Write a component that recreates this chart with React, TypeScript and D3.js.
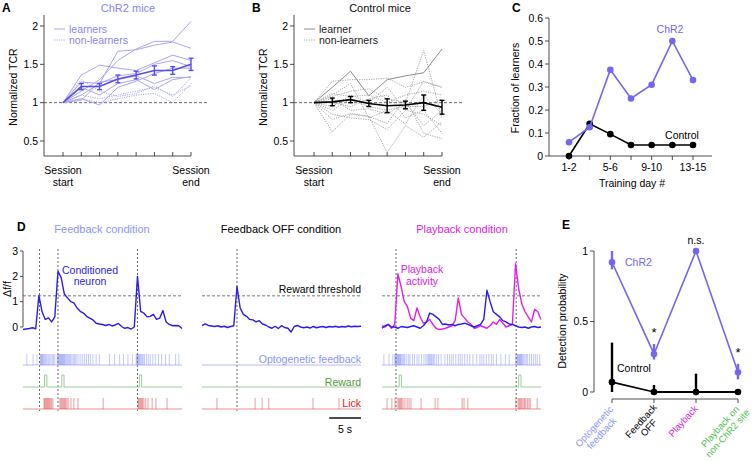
import React from "react";
import * as d3 from "d3";

const FONT = "'Liberation Sans', Arial, Helvetica, sans-serif";

// ---------- Panel A / B data ----------
const sessions = [0, 1, 2, 3, 4, 5, 6, 7];
const tcrTicks = [0.5, 1, 1.5, 2];
const chr2Learners = [
  [1, 1.15, 1.3, 1.55, 1.7, 1.8, 1.8, 2.06],
  [1, 1.1, 1.25, 1.67, 1.69, 1.75, 1.79, 1.71],
  [1, 1.36, 1.49, 1.45, 1.42, 1.52, 1.62, 1.55],
  [1, 1.27, 1.25, 1.35, 1.38, 1.5, 1.55, 1.47],
  [1, 1.05, 0.97, 1.2, 1.28, 1.38, 1.45, 1.45],
  [1, 1.2, 1.1, 1.25, 1.3, 1.17, 1.3, 1.34],
  [1, 1.03, 1.27, 1.3, 1.35, 1.25, 1.33, 1.33],
];
const chr2NonLearners = [
  [1, 1.3, 1.15, 1.08, 1.12, 1.22, 1.08, 1.32],
  [1, 1.05, 1.0, 1.05, 1.1, 1.12, 1.0, 1.25],
  [1, 1.1, 1.05, 1.1, 1.15, 1.2, 1.1, 1.22],
];
const chr2Mean = [1, 1.21, 1.21, 1.31, 1.36, 1.42, 1.42, 1.5];
const chr2Err = [0, 0.04, 0.04, 0.05, 0.05, 0.06, 0.05, 0.08];
const ctrlLearner = [1, 1.2, 1.41, 1.09, 1.3, 1.35, 1.39, 1.7];
const ctrlNonLearners = [
  [1, 1.28, 1.3, 1.3, 1.32, 1.2, 1.27, 1.2],
  [1, 0.62, 0.85, 0.82, 0.35, 0.7, 0.55, 0.75],
  [1, 0.78, 0.86, 0.82, 0.73, 1.05, 0.6, 0.53],
  [1, 1.08, 1.15, 1.18, 1.05, 1.0, 1.68, 0.8],
  [1, 0.95, 1.1, 1.0, 1.2, 0.9, 1.28, 1.2],
  [1, 1.05, 0.9, 0.92, 0.85, 1.0, 0.7, 0.9],
  [1, 0.9, 1.05, 0.95, 0.9, 0.95, 0.95, 1.05],
  [1, 1.1, 1.25, 0.8, 0.9, 0.72, 1.1, 0.85],
  [1, 1.0, 0.95, 1.05, 1.1, 0.8, 0.9, 0.6],
  [1, 1.12, 1.08, 1.1, 1.0, 1.1, 1.15, 1.1],
  [1, 0.85, 0.8, 0.78, 0.65, 0.9, 0.85, 0.7],
];
const ctrlMean = [1, 1.01, 1.04, 0.99, 0.96, 0.97, 1.0, 0.94];
const ctrlErr = [0, 0.05, 0.04, 0.04, 0.09, 0.05, 0.1, 0.09];

// ---------- Panel C data ----------
const trainingDays = ["1-2", "3-4", "5-6", "7-8", "9-10", "11-12", "13-15"];
const shownDays = ["1-2", "5-6", "9-10", "13-15"];
const fracChR2 = [0.06, 0.125, 0.375, 0.25, 0.31, 0.5, 0.33];
const fracControl = [0, 0.14, 0.095, 0.048, 0.048, 0.048, 0.048];
const fracTicks = [0, 0.1, 0.2, 0.3, 0.4, 0.5, 0.6];

// ---------- Panel D data (samples every 0.5 s, 0..25 s) ----------
const traceStep = 0.5;
const dffTicks = [0, 1, 2, 3];
const rewardThreshold = 1.23;
const feedbackTrace = [
  -0.1, -0.08, -0.06, -0.03, -0.07, 1.25, 0.6, 0.3, 0.36, 0.2,
  0.4, 2.2, 1.95, 1.3, 1.15, 1.0, 0.95, 0.75, 0.62, 0.55,
  0.42, 0.35, 0.28, 0.15, 0.12, 0.1, 0.06, 0.1, 0.04, 0.08,
  0.14, 0.02, -0.05, -0.02, -0.08, 0.0, 2.0, 0.62, 0.55, 0.4,
  0.42, 0.5, 0.3, 0.35, 0.65, 0.2, 0.1, 0.05, 0.06, 0.05, -0.06,
];
const offTrace = [
  0.05, 0.12, 0.06, 0.04, 0.02, 0.05, 0.0, 0.03, -0.02, 0.02,
  0.05, 1.6, 0.75, 0.5, 0.42, 0.3, 0.28, 0.2, 0.25, 0.12,
  0.08, 0.0, -0.05, 0.03, -0.06, 0.05, -0.02, -0.05, -0.2, 0.02,
  0.06, 0.0, -0.03, 0.0, -0.04, 0.02, -0.03, 0.0, 0.02, -0.02,
  0.02, 0.0, 0.03, -0.01, 0.02, 0.0, 0.04, 0.01, 0.03, 0.02, 0.03,
];
const playbackTrace = [
  0.05, 0.0, 0.1, -0.05, 0.1, 2.1, 1.6, 1.0, 0.8, 0.35,
  0.25, 0.75, 0.4, 0.15, 0.2, 0.3, 0.1, -0.05, -0.1, -0.08,
  -0.05, 0.0, 0.05, 0.25, 1.15, 0.5, 0.35, 0.2, 0.1, -0.05,
  -0.02, 0.05, 0.0, -0.05, 0.05, 0.2, 0.1, 0.3, 0.15, 0.0,
  0.05, 0.1, 2.5, 1.5, 0.9, 0.6, 0.4, 0.2, 0.7, 0.6, 0.3,
];
const playbackNeuronTrace = [
  -0.05, 0.05, 0.1, 0.0, 0.0, -0.05, 0.02, 0.0, -0.02, 0.02,
  0.05, 0.0, -0.05, 0.05, 0.2, 0.55, 0.5, 0.4, 0.3, 0.1,
  0.12, 0.08, 0.1, 0.05, 0.1, 0.12, 0.15, 0.1, 0.05, 0.0,
  0.05, 0.1, 0.3, 1.45, 1.0, 0.6, 0.5, 0.4, 0.25, 0.2,
  0.12, 0.1, 0.05, 0.0, -0.02, 0.0, -0.05, 0.0, 0.02, -0.02, 0.0,
];
const eventsFeedback = [2.6, 5.5, 18.0];
const eventsOff = [5.5];
const eventsPlayback = [2.2, 21.1];
const optoFeedback = [
  0.6, 1.6, 2.2, 2.7, 2.8, 2.9, 3.0, 3.1, 3.2, 3.35, 3.5, 3.65, 3.8, 4.0, 4.2,
  4.4, 4.6, 4.8, 5.0, 5.4, 5.5, 5.6, 5.7, 5.8, 5.9, 6.0, 6.1, 6.2, 6.3, 6.4,
  6.5, 6.6, 6.75, 6.9, 7.05, 7.2, 7.35, 7.5, 7.7, 7.9, 8.1, 8.3, 8.5, 8.8, 9.1,
  9.4, 9.7, 10.0, 10.3, 10.6, 11.0, 11.5, 12.0, 13.6, 14.4, 15.2, 15.8, 16.5,
  17.2, 17.8, 17.9, 18.0, 18.1, 18.2, 18.3, 18.45, 18.6, 18.75, 18.9, 19.1,
  19.4, 19.7, 20.0, 20.4, 20.8, 21.3, 21.8, 22.4, 23.0, 24.0, 24.5,
];
const optoPlayback = [
  0.3, 1.1, 1.7, 2.0, 2.1, 2.2, 2.3, 2.4, 2.5, 2.6, 2.7, 2.8, 2.9, 3.0, 3.15,
  3.3, 3.45, 3.6, 3.9, 4.2, 4.4, 4.8, 5.1, 5.5, 5.8, 6.2, 6.6, 6.9, 7.1, 7.3,
  7.45, 7.6, 7.75, 7.9, 8.1, 8.3, 8.6, 8.9, 9.3, 9.9, 10.3, 10.6, 10.9, 11.2,
  11.6, 12.0, 12.3, 12.6, 13.0, 13.4, 13.8, 14.3, 14.9, 15.4, 15.7, 16.0, 16.4,
  16.8, 17.2, 17.5, 18.0, 18.7, 19.4, 20.0, 21.0, 21.2, 21.3, 21.4, 21.5, 21.6,
  21.7, 21.8, 21.9, 22.0, 22.15, 22.3, 22.5, 22.7, 22.9, 23.2, 23.5, 23.8, 24.1,
  24.4, 24.8,
];
const rewardFeedback = [3.4, 6.1, 18.3];
const rewardPlayback = [2.7, 21.5];
const rewardDuration = 0.35;
const lickFeedback = [
  3.3, 3.4, 3.55, 3.7, 3.85, 4.0, 4.15, 4.3, 4.5, 4.7, 5.8, 5.95, 6.1, 6.25,
  6.4, 6.55, 6.7, 6.9, 7.1, 7.55, 8.0, 8.65, 12.6, 18.1, 18.2, 18.35, 18.5,
  18.65, 18.8, 19.0, 19.3, 19.65, 20.3, 20.9, 22.65,
];
const lickOff = [2.35, 8.35, 9.45, 10.5, 17.45, 21.55];
const lickPlayback = [
  0.8, 1.55, 2.05, 2.5, 2.65, 2.8, 2.95, 3.1, 3.3, 3.6, 3.95, 4.25, 4.55, 6.15,
  8.35, 8.8, 12.6, 12.9, 13.5, 21.05, 21.4, 21.55, 21.7, 21.85, 22.0, 22.2,
  22.4, 22.6, 22.85, 23.1, 23.3, 24.4,
];
const scaleBarSeconds = 5;

// ---------- Panel E data ----------
const conditions = [
  ["Optogenetic", "feedback"],
  ["Feedback", "OFF"],
  ["Playback"],
  ["Playback on", "non-ChR2 site"],
];
const conditionColors = ["#8a96f8", "#000000", "#e020e8", "#50c050"];
const detChR2 = [0.92, 0.27, 1.0, 0.14];
const detChR2Lo = [0.87, 0.23, 1.0, 0.09];
const detChR2Hi = [1.0, 0.34, 1.0, 0.2];
const detCtrl = [0.07, 0, 0, 0];
const detCtrlLo = [0, 0, 0, 0];
const detCtrlHi = [0.35, 0.05, 0.13, 0];
const detTicks = [0, 0.5, 1];
const detAnnot = ["", "*", "n.s.", "*"];

const PURPLE = "#7366f0";
const BLUE = "#2b1cf0";
const MAGENTA = "#e020e8";
const LIGHTBLUE = "#8a96f8";

function Txt(props: any) {
  const { children, ...rest } = props;
  return (
    <text fontFamily={FONT} fontSize={10.5} {...rest}>
      {children}
    </text>
  );
}

function TcrPanel(props: any) {
  const { x0, x1, xStart, letter, title, titleColor, legendColor, learnerLines, nonLines, mean, err, meanColor, lineColor, dotColor, learnerLabel } = props;
  const x = d3.scaleLinear().domain([0, 7]).range([xStart, xStart + 128]);
  const y = d3.scaleLinear().domain([0.5, 2]).range([141, 26]);
  const line = d3
    .line<number>()
    .x((_, i) => x(sessions[i]))
    .y((d) => y(d));
  return (
    <g>
      <Txt x={x0 - 42} y={12} fontWeight="bold" fontSize={12}>{letter}</Txt>
      <Txt x={(x0 + x1) / 2 + 2} y={12} textAnchor="middle" fill={titleColor} fontSize={11}>{title}</Txt>
      <line x1={x0} x2={x0} y1={15} y2={156} stroke="#222" strokeWidth={0.8} />
      <line x1={x0} x2={xStart + 128} y1={156} y2={156} stroke="#222" strokeWidth={0.8} />
      {tcrTicks.map((t) => (
        <g key={t}>
          <line x1={x0 - 4} x2={x0} y1={y(t)} y2={y(t)} stroke="#222" strokeWidth={0.8} />
          <Txt x={x0 - 6} y={y(t) + 3.8} textAnchor="end">{t}</Txt>
        </g>
      ))}
      {sessions.map((s) => (
        <line key={s} x1={x(s)} x2={x(s)} y1={152} y2={156} stroke="#222" strokeWidth={0.8} />
      ))}
      <Txt x={x(0)} y={174} textAnchor="middle">Session</Txt>
      <Txt x={x(0)} y={186} textAnchor="middle">start</Txt>
      <Txt x={x(7)} y={174} textAnchor="middle">Session</Txt>
      <Txt x={x(7)} y={186} textAnchor="middle">end</Txt>
      <Txt transform={`translate(${x0 - 27},87) rotate(-90)`} textAnchor="middle">Normalized TCR</Txt>
      <line x1={x0} x2={x1} y1={y(1)} y2={y(1)} stroke="#444" strokeWidth={0.8} strokeDasharray="3,2" />
      {nonLines.map((l: number[], i: number) => (
        <path key={"n" + i} d={line(l) || ""} fill="none" stroke={dotColor} strokeWidth={1} strokeDasharray="1.2,1.2" />
      ))}
      {learnerLines.map((l: number[], i: number) => (
        <path key={"l" + i} d={line(l) || ""} fill="none" stroke={lineColor} strokeWidth={1} />
      ))}
      <path d={line(mean) || ""} fill="none" stroke={meanColor} strokeWidth={1.6} />
      {mean.map((m: number, i: number) =>
        err[i] > 0 ? (
          <g key={"e" + i} stroke={meanColor} strokeWidth={1.4}>
            <line x1={x(i)} x2={x(i)} y1={y(m - err[i])} y2={y(m + err[i])} />
            <line x1={x(i) - 2.5} x2={x(i) + 2.5} y1={y(m - err[i])} y2={y(m - err[i])} />
            <line x1={x(i) - 2.5} x2={x(i) + 2.5} y1={y(m + err[i])} y2={y(m + err[i])} />
          </g>
        ) : null
      )}
      <line x1={x0 + 10} x2={x0 + 21} y1={29} y2={29} stroke={lineColor} strokeWidth={1} />
      <line x1={x0 + 10} x2={x0 + 21} y1={40} y2={40} stroke={dotColor} strokeWidth={1} strokeDasharray="1.2,1.2" />
      <Txt x={x0 + 25} y={33} fill={legendColor}>{learnerLabel}</Txt>
      <Txt x={x0 + 25} y={44} fill={legendColor}>non-learners</Txt>
    </g>
  );
}

function TracePanel(props: any) {
  const { xStart, traces, events, opto, reward, licks } = props;
  const x = d3.scaleLinear().domain([0, 25]).range([xStart, xStart + 159]);
  const y = d3.scaleLinear().domain([0, 3]).range([327, 251]);
  const line = d3
    .line<number>()
    .x((_, i) => x(i * traceStep))
    .y((d) => y(d));
  return (
    <g>
      {events.map((e: number, i: number) => (
        <line key={"ev" + i} x1={x(e)} x2={x(e)} y1={249} y2={411} stroke="#555" strokeWidth={0.9} strokeDasharray="2,2" />
      ))}
      <line x1={x(0)} x2={x(25)} y1={y(rewardThreshold)} y2={y(rewardThreshold)} stroke="#555" strokeWidth={0.8} strokeDasharray="3,2" />
      {traces.map((tr: any, i: number) => (
        <path key={"tr" + i} d={line(tr.values) || ""} fill="none" stroke={tr.color} strokeWidth={1.4} strokeLinejoin="round" />
      ))}
      <line x1={x(0)} x2={x(25)} y1={365} y2={365} stroke="#b4bcf8" strokeWidth={1} />
      {opto.map((t: number, i: number) => (
        <line key={"o" + i} x1={x(t)} x2={x(t)} y1={354} y2={365} stroke="#5a6cf0" strokeOpacity={0.4} strokeWidth={0.9} />
      ))}
      <path
        d={
          "M" + x(0) + ",387" +
          reward
            .map((t: number) => `L${x(t)},387L${x(t)},375L${x(t + rewardDuration)},375L${x(t + rewardDuration)},387`)
            .join("") +
          `L${x(25)},387`
        }
        fill="none"
        stroke="#9ccc98"
        strokeWidth={1}
      />
      <line x1={x(0)} x2={x(25)} y1={409} y2={409} stroke="#f2b4b4" strokeWidth={1.4} />
      {licks.map((t: number, i: number) => (
        <line key={"k" + i} x1={x(t)} x2={x(t)} y1={398} y2={409} stroke="#e04848" strokeOpacity={0.6} strokeWidth={0.9} />
      ))}
    </g>
  );
}

export default function App() {
  // Panel C scales
  const xC = d3.scaleLinear().domain([0, 6]).range([569, 693]);
  const yC = d3.scaleLinear().domain([0, 0.6]).range([156, 18]);
  const lineC = d3
    .line<number>()
    .x((_, i) => xC(i))
    .y((d) => yC(d));

  // Panel D scales
  const yD = d3.scaleLinear().domain([0, 3]).range([327, 251]);
  const xD2 = d3.scaleLinear().domain([0, 25]).range([202, 361]);

  // Panel E scales
  const xE = d3.scaleLinear().domain([0, 3]).range([612, 738]);
  const yE = d3.scaleLinear().domain([0, 1]).range([392, 251]);
  const lineE = d3
    .line<number>()
    .x((_, i) => xE(i))
    .y((d) => yE(d));

  return (
    <svg width={754} height={461} style={{ position: "absolute", left: 0, top: 0, background: "#fff" }}>
      <rect width={754} height={461} fill="#fff" />
      {/* Panel A */}
      <TcrPanel
        x0={44}
        x1={208}
        xStart={63}
        letter="A"
        title="ChR2 mice"
        titleColor="#8a84f2"
        legendColor="#8a84f2"
        learnerLines={chr2Learners}
        nonLines={chr2NonLearners}
        mean={chr2Mean}
        err={chr2Err}
        meanColor="#5a4ee8"
        lineColor="#aaa6f4"
        dotColor="#aaa6f4"
        learnerLabel="learners"
      />
      {/* Panel B */}
      <TcrPanel
        x0={294}
        x1={462}
        xStart={314}
        letter="B"
        title="Control mice"
        titleColor="#111"
        legendColor="#222"
        learnerLines={[ctrlLearner]}
        nonLines={ctrlNonLearners}
        mean={ctrlMean}
        err={ctrlErr}
        meanColor="#000"
        lineColor="#8c8c8c"
        dotColor="#a8a8a8"
        learnerLabel="learner"
      />

      {/* Panel C */}
      <g>
        <Txt x={512} y={12} fontWeight="bold" fontSize={12}>C</Txt>
        <line x1={549} x2={549} y1={18} y2={156} stroke="#222" strokeWidth={0.8} />
        <line x1={549} x2={712} y1={156} y2={156} stroke="#222" strokeWidth={0.8} />
        {fracTicks.map((t) => (
          <g key={t}>
            <line x1={545} x2={549} y1={yC(t)} y2={yC(t)} stroke="#222" strokeWidth={0.8} />
            <Txt x={543} y={yC(t) + 3.8} textAnchor="end">{t}</Txt>
          </g>
        ))}
        {trainingDays.map((d, i) => (
          <g key={d}>
            <line x1={xC(i)} x2={xC(i)} y1={156} y2={160} stroke="#222" strokeWidth={0.8} />
            {shownDays.includes(d) ? (
              <Txt x={xC(i)} y={171} textAnchor="middle">{d}</Txt>
            ) : null}
          </g>
        ))}
        <Txt x={632} y={187} textAnchor="middle">Training day #</Txt>
        <Txt transform="translate(519,88) rotate(-90)" textAnchor="middle">Fraction of learners</Txt>
        <path d={lineC(fracControl) || ""} fill="none" stroke="#000" strokeWidth={1.6} />
        {fracControl.map((v, i) => (
          <circle key={"c" + i} cx={xC(i)} cy={yC(v)} r={3.3} fill="#000" />
        ))}
        <path d={lineC(fracChR2) || ""} fill="none" stroke={PURPLE} strokeWidth={1.6} />
        {fracChR2.map((v, i) => (
          <circle key={"h" + i} cx={xC(i)} cy={yC(v)} r={3.3} fill={PURPLE} />
        ))}
        <Txt x={670} y={33} textAnchor="middle" fill={PURPLE}>ChR2</Txt>
        <Txt x={682} y={139} textAnchor="middle">Control</Txt>
      </g>

      {/* Panel D */}
      <g>
        <Txt x={17} y={231} fontWeight="bold" fontSize={12}>D</Txt>
        <Txt x={102} y={233} textAnchor="middle" fontSize={11} fill={LIGHTBLUE}>Feedback condition</Txt>
        <Txt x={281} y={233} textAnchor="middle" fontSize={11}>Feedback OFF condition</Txt>
        <Txt x={462} y={233} textAnchor="middle" fontSize={11} fill={MAGENTA}>Playback condition</Txt>
        <line x1={23} x2={23} y1={yD(3)} y2={yD(0)} stroke="#222" strokeWidth={0.8} />
        {dffTicks.map((t) => (
          <g key={t}>
            <line x1={20} x2={23} y1={yD(t)} y2={yD(t)} stroke="#222" strokeWidth={0.8} />
            <Txt x={18} y={yD(t) + 3.8} textAnchor="end">{t}</Txt>
          </g>
        ))}
        <Txt transform="translate(11,289) rotate(-90)" textAnchor="middle">Δf/f</Txt>
        <TracePanel
          xStart={23}
          traces={[{ values: feedbackTrace, color: BLUE }]}
          events={eventsFeedback}
          opto={optoFeedback}
          reward={rewardFeedback}
          licks={lickFeedback}
        />
        <TracePanel
          xStart={202}
          traces={[{ values: offTrace, color: BLUE }]}
          events={eventsOff}
          opto={[]}
          reward={[]}
          licks={lickOff}
        />
        <TracePanel
          xStart={382}
          traces={[
            { values: playbackTrace, color: MAGENTA },
            { values: playbackNeuronTrace, color: BLUE },
          ]}
          events={eventsPlayback}
          opto={optoPlayback}
          reward={rewardPlayback}
          licks={lickPlayback}
        />
        <Txt x={90} y={274} textAnchor="middle" fill={BLUE}>Conditioned</Txt>
        <Txt x={90} y={285} textAnchor="middle" fill={BLUE}>neuron</Txt>
        <Txt x={422} y={273} textAnchor="middle" fill={MAGENTA}>Playback</Txt>
        <Txt x={422} y={285} textAnchor="middle" fill={MAGENTA}>activity</Txt>
        <Txt x={361} y={293} textAnchor="end">Reward threshold</Txt>
        <Txt x={361} y={363} textAnchor="end" fill={LIGHTBLUE}>Optogenetic feedback</Txt>
        <Txt x={361} y={386} textAnchor="end" fill="#4f9a3a">Reward</Txt>
        <Txt x={361} y={407} textAnchor="end" fill="#e02020">Lick</Txt>
        <line x1={xD2(25 - scaleBarSeconds)} x2={xD2(25)} y1={418} y2={418} stroke="#000" strokeWidth={1.4} />
        <Txt x={(xD2(25 - scaleBarSeconds) + xD2(25)) / 2} y={433} textAnchor="middle">5 s</Txt>
      </g>

      {/* Panel E */}
      <g>
        <Txt x={562} y={229} fontWeight="bold" fontSize={12}>E</Txt>
        <line x1={594} x2={594} y1={yE(1)} y2={yE(0)} stroke="#222" strokeWidth={0.8} />
        {detTicks.map((t) => (
          <g key={t}>
            <line x1={590} x2={594} y1={yE(t)} y2={yE(t)} stroke="#222" strokeWidth={0.8} />
            <Txt x={588} y={yE(t) + 3.8} textAnchor="end">{t}</Txt>
          </g>
        ))}
        <line x1={xE(0)} x2={xE(3)} y1={399} y2={399} stroke="#222" strokeWidth={0.8} />
        {conditions.map((c, i) => (
          <g key={i}>
            <line x1={xE(i)} x2={xE(i)} y1={399} y2={403} stroke="#222" strokeWidth={0.8} />
            <g transform={`translate(${xE(i) - 3},403) rotate(-48)`}>
              {c.map((ln, j) => (
                <Txt key={j} x={-c[0].length * 2.5} y={8 + j * 10} textAnchor="middle" fontSize={9.5} fill={conditionColors[i]}>
                  {ln}
                </Txt>
              ))}
            </g>
          </g>
        ))}
        <Txt transform="translate(566,321) rotate(-90)" textAnchor="middle">Detection probability</Txt>
        <path d={lineE(detCtrl) || ""} fill="none" stroke="#000" strokeWidth={1.6} />
        <path d={lineE(detCtrl.slice(1)) || ""} transform={`translate(${xE(1) - xE(0)},0)`} fill="none" stroke="#000" strokeWidth={2.2} />
        {detCtrl.map((v, i) => (
          <g key={"ec" + i}>
            <line x1={xE(i)} x2={xE(i)} y1={yE(detCtrlLo[i])} y2={yE(detCtrlHi[i])} stroke="#000" strokeWidth={2.4} />
            <circle cx={xE(i)} cy={yE(v)} r={3.3} fill="#000" />
          </g>
        ))}
        <path d={lineE(detChR2) || ""} fill="none" stroke={PURPLE} strokeWidth={1.6} />
        {detChR2.map((v, i) => (
          <g key={"eh" + i}>
            <line x1={xE(i)} x2={xE(i)} y1={yE(detChR2Lo[i])} y2={yE(detChR2Hi[i])} stroke={PURPLE} strokeWidth={2.4} />
            <circle cx={xE(i)} cy={yE(v)} r={3.3} fill={PURPLE} />
          </g>
        ))}
        {detAnnot.map((a, i) =>
          a ? (
            <Txt key={"an" + i} x={xE(i)} y={yE(detChR2Hi[i]) - 7} textAnchor="middle" fontSize={a === "*" ? 13 : 10.5}>
              {a}
            </Txt>
          ) : null
        )}
        <Txt x={625} y={266} fill={PURPLE}>ChR2</Txt>
        <Txt x={617} y={372}>Control</Txt>
      </g>
    </svg>
  );
}
